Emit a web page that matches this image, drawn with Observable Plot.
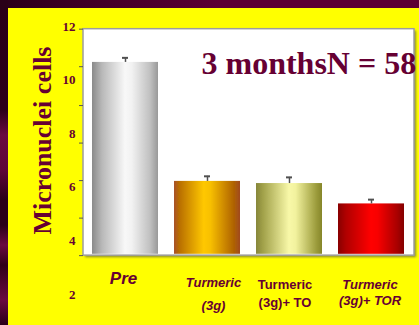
<!DOCTYPE html>
<html>
<head>
<meta charset="utf-8">
<script src="https://cdn.jsdelivr.net/npm/d3@7"></script>
<script src="https://cdn.jsdelivr.net/npm/@observablehq/plot@0.6"></script>
<style>
  html, body { margin: 0; padding: 0; }
  body {
    width: 419px; height: 325px; overflow: hidden; position: relative;
    background: linear-gradient(90deg, #2a0018 0px, #3e0024 80px, #5c0033 220px);
  }
  #edge {
    position: absolute; left: 0; top: 0; width: 8px; height: 325px;
    background: linear-gradient(180deg, #2a0018 0px, #2c0019 110px, #6a0a40 135px, #5e0638 170px,
      #2a0018 200px, #2a0018 225px, #6a0a40 245px, #300018 265px, #6a0a40 300px, #2a0018 325px);
  }
  #panel { position: absolute; left: 8px; top: 8px; right: 0; bottom: 0; background: #ffff00; }
  #chart { position: absolute; left: 0; top: 0; }
</style>
</head>
<body>
<div id="edge"></div>
<div id="panel"></div>
<div id="chart"></div>
<script>
// Micronuclei cell counts per treatment group after 3 months
const groups = ["Pre", "Turmeric (3g)", "Turmeric (3g)+ TO", "Turmeric (3g)+ TOR"];
const means = [10.66, 6.22, 6.14, 5.38];
const upperErr = [10.83, 6.41, 6.37, 5.54];
const yTickValues = [2, 4, 6, 8, 10, 12];
const frameTickValues = [3.45, 4.85, 6.25, 7.65, 9.05, 10.5, 11.9];
const xLabelText = ["Pre", "Turmeric\n(3g)", "Turmeric\n(3g)+ TO", "Turmeric\n(3g)+ TOR"];
const yTitle = "Micronuclei cells";
const note = "3 monthsN = 58";

// extent of the white plotting box and the bar baseline, in y units
const yFrameBottom = 3.45;
const yFrameTop = 11.9;
const yBarBase = 3.5;

const maroon = "#660033";

// horizontal "cylinder" shading for each bar
const barShading = [
  [[0, "#8a8a8a"], [0.15, "#b8b8b8"], [0.5, "#f8f8f8"], [0.6, "#f2f2f2"], [0.88, "#c0c0c0"], [1, "#999999"]],
  [[0, "#a8502a"], [0.08, "#b86e00"], [0.45, "#ffc800"], [0.55, "#f8c000"], [0.9, "#b06400"], [1, "#a04a20"]],
  [[0, "#86863a"], [0.1, "#a0a048"], [0.5, "#f8f8a8"], [0.6, "#f2f29e"], [0.92, "#9a9a3a"], [1, "#86862a"]],
  [[0, "#880000"], [0.12, "#b00000"], [0.5, "#ff0000"], [0.6, "#f80000"], [0.9, "#a80000"], [1, "#840000"]]
];

// per-label text styling and nudges for the category labels
const labelStyle = [
  {fontSize: 17, fontStyle: "italic", lineAnchor: "middle", dy: -16, dx: -2, lineHeight: 1},
  {fontSize: 13, fontStyle: "italic", lineAnchor: "top", dy: -23.5, dx: 6, lineHeight: 1.77},
  {fontSize: 13, fontStyle: "normal", lineAnchor: "top", dy: -19, dx: -4.5, lineHeight: 1.42},
  {fontSize: 13, fontStyle: "italic", lineAnchor: "top", dy: -16.5, dx: -1.5, lineHeight: 1.23}
];

const rows = groups.map((g, i) => ({group: g, mean: means[i], upper: upperErr[i], fill: `url(#bar-shade-${i})`, label: xLabelText[i]}));

function defsMark() {
  const defs = d3.create("svg:defs");
  barShading.forEach((stops, i) => {
    const lg = defs.append("linearGradient").attr("id", `bar-shade-${i}`)
      .attr("x1", 0).attr("x2", 1).attr("y1", 0).attr("y2", 0);
    stops.forEach(([o, c]) => lg.append("stop").attr("offset", o).attr("stop-color", c));
  });
  defs.append("filter").attr("id", "soft-shadow").attr("x", "-5%").attr("y", "-5%").attr("width", "110%").attr("height", "110%")
    .append("feGaussianBlur").attr("stdDeviation", 1.2);
  defs.append("filter").attr("id", "soft-bar")
    .append("feGaussianBlur").attr("stdDeviation", 0.6);
  return defs.node();
}

const serif = "'Liberation Serif', 'Times New Roman', serif";
const sans = "'Liberation Sans', Arial, sans-serif";

const labelMarks = rows.map((r, i) => Plot.text([r], {
  x: "group",
  frameAnchor: "bottom",
  text: "label",
  textAnchor: "middle",
  fontFamily: sans,
  fontWeight: "bold",
  fill: maroon,
  ...labelStyle[i]
}));

const chart = Plot.plot({
  width: 419,
  height: 325,
  marginLeft: 83,
  marginRight: 5,
  marginTop: 26,
  marginBottom: 31,
  style: {background: "transparent", overflow: "visible"},
  x: {domain: groups, paddingInner: 0.19, paddingOuter: 0.1, axis: null, label: null},
  y: {domain: [2, 12], axis: null, label: null},
  color: {type: "identity"},
  marks: [
    defsMark,
    Plot.rect([0], {y1: yFrameBottom, y2: yFrameTop, fill: "#8e8e2c", dx: 2, dy: 2, ariaDescription: "frame-shadow"}),
    Plot.rect([0], {y1: yFrameBottom, y2: yFrameTop, fill: "white", stroke: "#9d9d9d", strokeWidth: 1.5}),
    Plot.axisY(frameTickValues, {tickSize: 4, tickFormat: () => "", stroke: "#555", label: null}),
    Plot.axisY(yTickValues, {
      tickSize: 0, tickPadding: 8, label: null,
      fontFamily: serif, fontWeight: "bold", fontSize: 13, fill: maroon
    }),
    Plot.barY(rows, {x: "group", y1: yBarBase, y2: "mean", fill: "fill", ariaDescription: "bars"}),
    Plot.ruleX(rows, {x: "group", y1: "mean", y2: "upper", stroke: "#505050", strokeWidth: 1.5}),
    Plot.tickY(rows, {x: "group", y: "upper", insetLeft: 30, insetRight: 30, stroke: "#505050", strokeWidth: 2}),
    Plot.text([yTitle], {
      text: d => d, frameAnchor: "left", textAnchor: "middle", lineAnchor: "middle",
      rotate: -90, dx: -41, dy: -20,
      fontFamily: serif, fontWeight: "bold", fontSize: 26, fill: maroon
    }),
    Plot.text([note], {
      text: d => d, frameAnchor: "top-left", textAnchor: "start", lineAnchor: "middle", dx: 118, dy: 37,
      fontFamily: serif, fontWeight: "bold", fontSize: 32, fill: maroon
    }),
    ...labelMarks
  ]
});

d3.select(chart).select('[aria-description="frame-shadow"]').attr("filter", "url(#soft-shadow)");
d3.select(chart).select('[aria-description="bars"]').attr("filter", "url(#soft-bar)");
document.getElementById("chart").appendChild(chart);
</script>
</body>
</html>
